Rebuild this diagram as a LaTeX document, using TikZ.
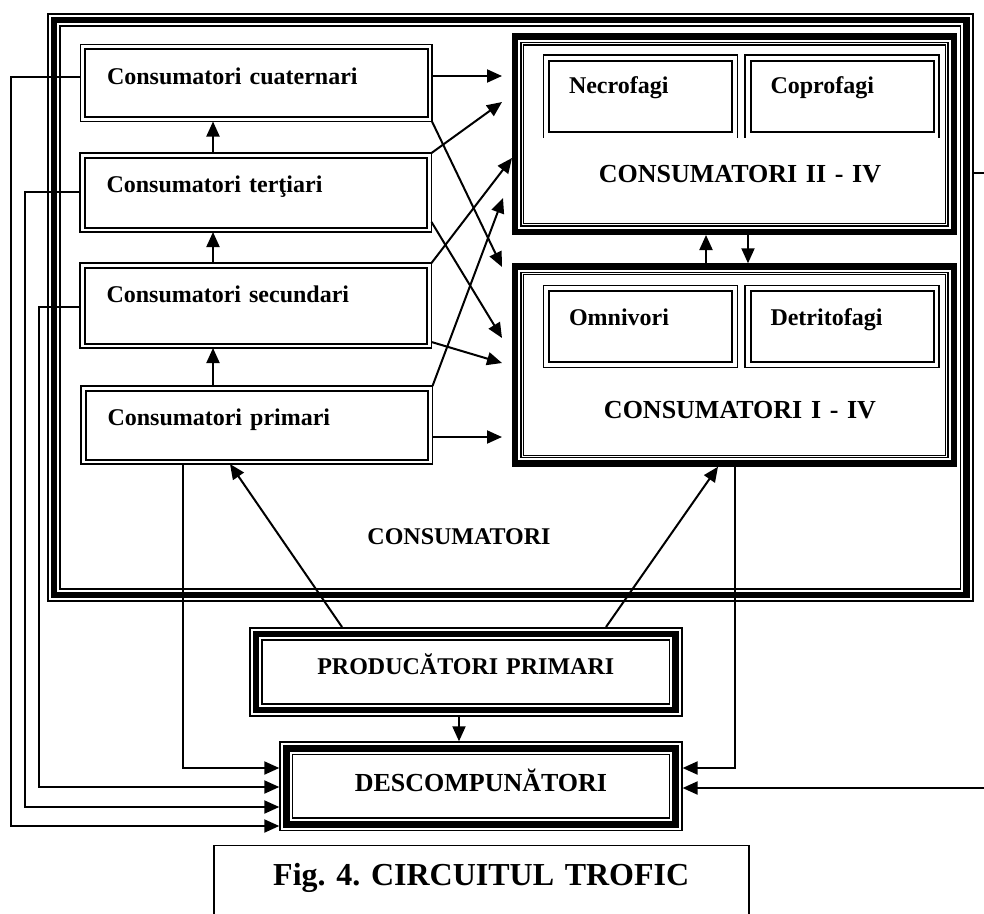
\documentclass[tikz,border=0pt]{standalone}
\usepackage{fontspec}
\setmainfont{Liberation Serif}
\usetikzlibrary{arrows.meta,calc}
\newcommand{\lblfont}{\fontsize{24}{28}\selectfont\bfseries}
\newcommand{\ttlfont}{\fontsize{26}{30}\selectfont\bfseries}
\newcommand{\capfont}{\fontsize{32}{38}\selectfont\bfseries}
\frenchspacing

\begin{document}
\begin{tikzpicture}[x=1pt,y=-1pt,
    arr/.style={line width=2pt,-{Triangle[length=15pt,width=13pt]}},
    cons/.style={draw,line width=2pt,outer sep=4.5pt,inner xsep=22pt,inner ysep=0pt,
      text width=298.5pt,align=left,anchor=north west,font=\lblfont,text height=35pt},
    sub/.style={draw,line width=2pt,outer sep=5.5pt,inner xsep=20pt,inner ysep=0pt,
      text width=143pt,align=left,anchor=north west,font=\lblfont},
    big/.style={draw,line width=1.3pt,fill=white,outer sep=11.5pt,inner sep=0pt,
      text width=422pt,align=center,anchor=north west,font=\ttlfont,
      preaction={draw,line width=23.1pt},preaction={draw=white,line width=10.1pt},
      preaction={draw,line width=6.1pt},preaction={draw=white,line width=3.5pt}},
    tri/.style={draw,line width=6.6pt,outer sep=7pt,inner sep=0pt,anchor=north west,
      preaction={draw,line width=14pt},preaction={draw=white,line width=10.8pt}}]
    \useasboundingbox (0,0) rectangle (984,913);

    \node[tri,minimum width=912.5pt,minimum height=575pt] (frame) at (47,13) {};
    \node[font=\lblfont,anchor=base,inner sep=0pt] (lcons) at (459,544) {CONSUMATORI};

    \node[cons,text depth=33pt] (cuat) at (80.5,44.5) {Consumatori cuaternari};
    \node[cons,text depth=35pt] (tert) at (80,153) {Consumatori terţiari};
    \node[cons,text depth=41pt] (sec) at (80,263) {Consumatori secundari};
    \node[cons,text depth=34pt] (prim) at (81,386) {Consumatori primari};

    \node[big,text height=137pt,text depth=41.5pt] (c24) at (512,33.5) {\hspace*{11pt}CONSUMATORI II - IV};
    \node[big,text height=143.2pt,text depth=37.2pt] (c14) at (512,263.3) {\hspace*{11pt}CONSUMATORI I - IV};
    \node[sub,text height=32.5pt,text depth=39pt] (necro) at (543.5,55) {Necrofagi};
    \node[sub,text height=32.5pt,text depth=39pt] (copro) at (745,55) {Coprofagi};
    \node[sub,text height=34pt,text depth=37pt] (omni) at (543.5,285.5) {Omnivori};
    \node[sub,text height=34pt,text depth=37pt] (detr) at (745,285.5) {Detritofagi};

    \foreach \n in {cuat,tert,sec,prim,omni,detr}
        \draw[line width=1.5pt] (\n.north west) rectangle (\n.south east);
    \foreach \n in {necro,copro}
        \draw[line width=1.5pt] (\n.south west) |- (\n.north east) -- (\n.south east);

    \node[tri,text width=419.5pt,align=center,text height=40pt,text depth=36pt,font=\lblfont] (prod) at (249,627) {PRODUCĂTORI PRIMARI};
    \node[tri,text width=389.3pt,align=center,text height=43.4pt,text depth=32.5pt,font=\ttlfont] (desc) at (279.3,741.3) {DESCOMPUNĂTORI};
    \node[draw,line width=1.5pt,anchor=north west,inner sep=0pt,text width=535pt,align=center,
        text height=40.5pt,text depth=100pt,font=\capfont] (cap) at (213,844.5) {Fig. 4. CIRCUITUL TROFIC};

    \draw[arr] (prim.north -| 213,0) -- (sec.south -| 213,0);
    \draw[arr] (sec.north -| 213,0) -- (tert.south -| 213,0);
    \draw[arr] (tert.north -| 213,0) -- (cuat.south -| 213,0);

    \draw[arr] (cuat.east |- 0,76) -- ($(c24.west |- 0,76)+(-10,0)$);
    \draw[arr] (tert.north east) -- ($(c24.west |- 0,102)+(-10,0)$);
    \draw[arr] (cuat.south east) -- ($(c14.west |- 0,267)+(-10,0)$);
    \draw[arr] (sec.north east) -- (c24.west |- 0,158);
    \draw[arr] ([yshift=10pt]tert.south east) -- ($(c14.west |- 0,338)+(-10,0)$);
    \draw[arr] (prim.north east) -- ($(c24.west |- 0,198)+(-9,0)$);
    \draw[arr] ([yshift=6pt]sec.south east) -- ($(c14.west |- 0,363)+(-10,0)$);
    \draw[arr] (prim.east |- 0,437) -- ($(c14.west |- 0,437)+(-10,0)$);

    \draw[arr] (c14.north -| 706,0) -- (c24.south -| 706,0);
    \draw[arr] (c24.south -| 748,0) -- (c14.north -| 748,0);

    \draw[arr] (prod.north -| 342,0) -- (prim.south -| 230,0);
    \draw[arr] (prod.north -| 606,0) -- (c14.south -| 718,0);
    \draw[arr] (prod.south -| 459,0) -- (desc.north -| 459,0);

    \draw[arr] (cuat.west |- 0,77) -- (11,77) |- (desc.west |- 0,826);
    \draw[arr] (tert.west |- 0,192) -- (25,192) |- (desc.west |- 0,807);
    \draw[arr] (sec.west |- 0,307) -- (39,307) |- (desc.west |- 0,787);
    \draw[arr] (prim.south -| 183,0) |- (desc.west |- 0,768);
    \draw[arr] (c14.south -| 735,0) |- (desc.east |- 0,768);
    \draw[arr] (frame.east |- 0,173) -- (990,173) |- (desc.east |- 0,788);
\end{tikzpicture}
\end{document}
